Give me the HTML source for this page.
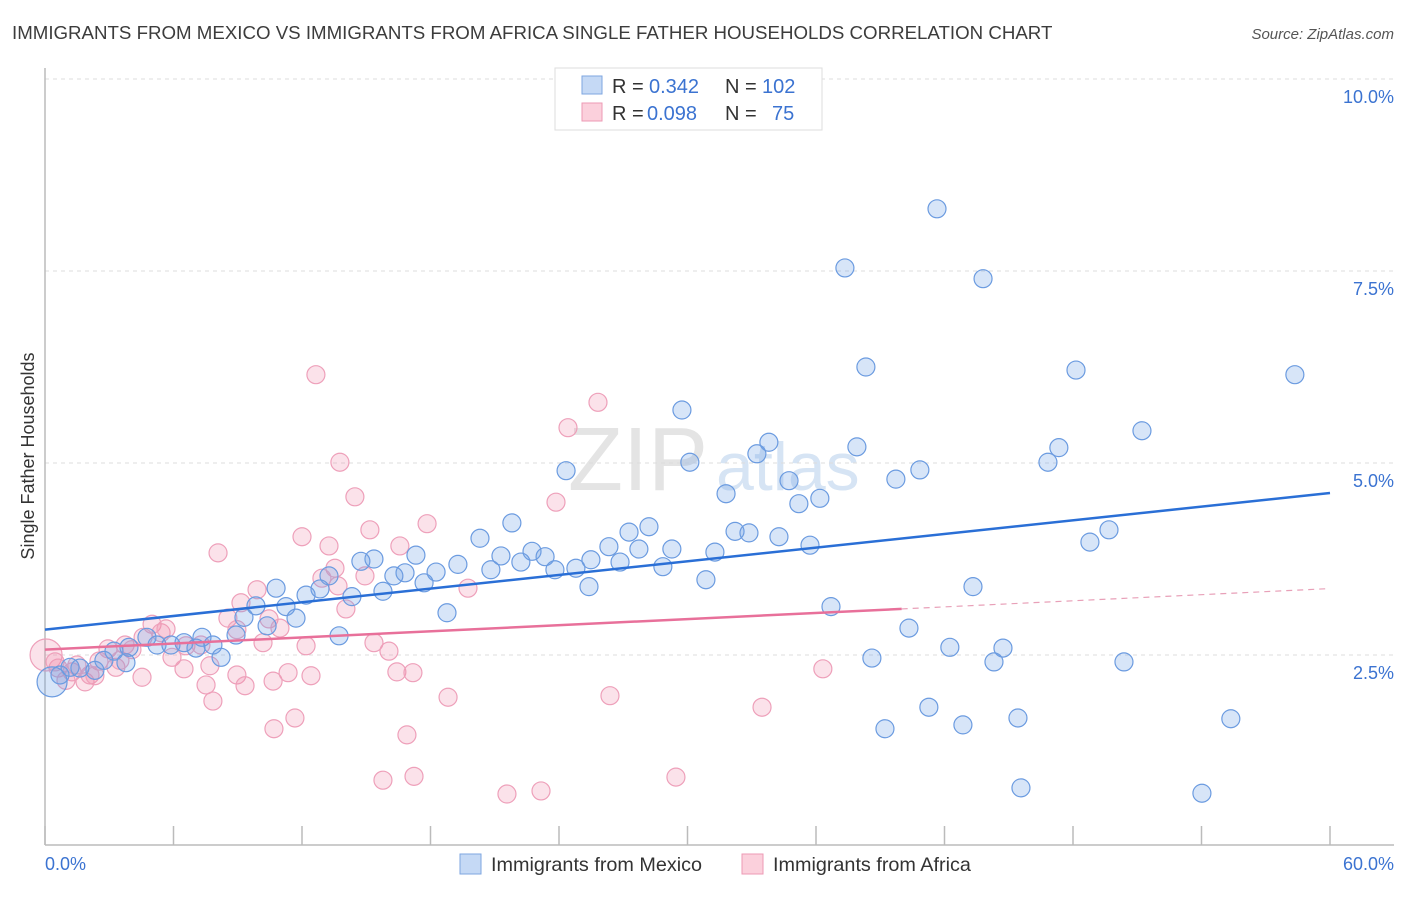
<!DOCTYPE html>
<html><head><meta charset="utf-8"><style>
body{margin:0;background:#fff;font-family:"Liberation Sans",sans-serif}
svg text{font-family:"Liberation Sans",sans-serif}
</style></head><body>
<svg width="1406" height="892" xmlns="http://www.w3.org/2000/svg">
<text x="12" y="39" font-size="18.7" fill="#3c3c3c">IMMIGRANTS FROM MEXICO VS IMMIGRANTS FROM AFRICA SINGLE FATHER HOUSEHOLDS CORRELATION CHART</text>
<text x="1394" y="39" font-size="15" fill="#555" font-style="italic" text-anchor="end">Source: ZipAtlas.com</text>
<text x="708" y="490" font-size="90" fill="#e4e4e4" font-family="Liberation Serif" text-anchor="end">ZIP</text>
<text x="716" y="490" font-size="68" fill="#d6e4f4">atlas</text>
<g id="grid"></g><g id="axes"></g><g id="pts"></g><g id="lines"></g>
<text transform="translate(34,456) rotate(-90)" font-size="18" fill="#333" text-anchor="middle">Single Father Households</text>
<text x="45" y="870" font-size="18" fill="#3b73d1">0.0%</text>
<text x="1394" y="870" font-size="18" fill="#3b73d1" text-anchor="end">60.0%</text>
<g>
<rect x="555" y="68" width="267" height="62" fill="#fff" stroke="#ddd"/>
<rect x="582" y="76" width="20" height="18" fill="#c5d9f5" stroke="#7ea6e0"/>
<rect x="582" y="103" width="20" height="18" fill="#fbd0dc" stroke="#ec9ab4"/>
<text x="612" y="93" font-size="20" fill="#333">R =</text>
<text x="649" y="93" font-size="20" fill="#3b73d1">0.342</text>
<text x="725" y="93" font-size="20" fill="#333">N =</text>
<text x="762" y="93" font-size="20" fill="#3b73d1">102</text>
<text x="612" y="120" font-size="20" fill="#333">R =</text>
<text x="647" y="120" font-size="20" fill="#3b73d1">0.098</text>
<text x="725" y="120" font-size="20" fill="#333">N =</text>
<text x="772" y="120" font-size="20" fill="#3b73d1">75</text>
</g>
<g>
<rect x="460" y="854" width="21" height="20" fill="#c5d9f5" stroke="#7ea6e0"/>
<text x="491" y="871" font-size="19.8" fill="#333">Immigrants from Mexico</text>
<rect x="742" y="854" width="21" height="20" fill="#fbd0dc" stroke="#ec9ab4"/>
<text x="773" y="871" font-size="19.8" fill="#333">Immigrants from Africa</text>
</g>
</svg>
<script>
const yTicks=[2.5,5,7.5,10];
const yTickLabels=["2.5%","5.0%","7.5%","10.0%"];
const xTicks=[0,6,12,18,24,30,36,42,48,54,60];
const mexicoX=[41.65,37.35,43.8,38.33,48.14,58.36,29.74,33.8,33.24,37.91,51.22,47.34,46.83,30.11,24.33,40.85,39.73,34.74,31.8,36.18,35.2,21.8,20.31,27.27,28.2,32.22,32.87,49.68,48.79,34.27,35.72,26.33,29.27,27.73,31.28,22.74,21.29,22.22,23.35,17.32,19.28,15.36,14.75,25.49,26.85,28.85,23.81,24.79,20.82,18.26,16.81,16.29,13.26,30.86,25.4,17.7,15.78,12.84,12.19,14.33,10.79,11.25,9.85,9.29,11.72,18.77,36.7,43.33,10.37,8.92,13.73,7.33,4.76,3.92,5.23,5.88,6.49,7.84,7.05,8.22,3.22,2.75,3.78,40.34,42.25,44.73,44.31,38.61,50.38,41.27,45.43,42.86,39.22,55.37,45.57,54.02,1.63,1.17,2.33,0.7,0.33];
const mexicoY=[8.31,7.54,7.40,6.25,6.21,6.15,5.69,5.27,5.12,5.21,5.42,5.20,5.01,5.01,4.90,4.91,4.79,4.77,4.60,4.54,4.47,4.22,4.02,4.10,4.17,4.11,4.09,4.13,3.97,4.04,3.93,3.91,3.88,3.88,3.84,3.85,3.79,3.71,3.78,3.80,3.68,3.75,3.72,3.74,3.71,3.65,3.61,3.63,3.61,3.58,3.57,3.53,3.53,3.48,3.39,3.44,3.33,3.36,3.28,3.26,3.37,3.13,3.14,2.99,2.98,3.05,3.13,3.39,2.88,2.76,2.75,2.73,2.73,2.60,2.63,2.63,2.66,2.63,2.59,2.47,2.55,2.43,2.40,2.85,2.60,2.59,2.41,2.46,2.41,1.82,1.68,1.59,1.54,1.67,0.77,0.70,2.33,2.34,2.30,2.24,2.15];
const africaX=[12.65,25.82,24.42,13.77,14.47,23.86,17.84,15.17,12.0,13.26,8.08,16.57,13.54,12.93,14.94,13.68,9.9,19.75,14.05,9.15,8.54,5.0,10.46,10.97,8.96,5.42,5.65,4.58,3.74,5.93,6.58,7.28,10.18,12.19,15.36,16.06,2.94,2.52,3.31,6.49,7.7,4.53,8.96,10.65,11.35,12.42,16.43,17.18,36.32,7.52,9.34,18.82,26.38,7.84,11.67,10.69,33.48,16.9,15.78,17.23,21.57,23.16,29.46,0.05,0.61,1.26,1.87,2.1,0.98,0.47,1.49,3.5,4.06,2.33];
const africaY=[6.15,5.79,5.46,5.01,4.56,4.49,4.21,4.13,4.04,3.92,3.83,3.92,3.63,3.50,3.53,3.40,3.35,3.37,3.10,3.18,2.98,2.90,2.97,2.85,2.83,2.79,2.84,2.73,2.63,2.47,2.62,2.63,2.66,2.62,2.66,2.55,2.58,2.42,2.34,2.32,2.36,2.21,2.24,2.16,2.27,2.23,2.28,2.27,2.32,2.11,2.10,1.95,1.97,1.90,1.68,1.54,1.82,1.46,0.87,0.92,0.69,0.73,0.91,2.50,2.33,2.28,2.15,2.24,2.17,2.41,2.37,2.43,2.57,2.23];
const mexicoTrend=[2.83,4.61]; // y at x=0 and x=60
const africaTrend=[2.57,3.10,40]; // y at 0, y at solid end, solid end x
const NS="http://www.w3.org/2000/svg";
const X=v=>45+v/60*1285, Y=v=>847-v*76.8;
function mk(tag,at,parent){const e=document.createElementNS(NS,tag);for(const k in at)e.setAttribute(k,at[k]);document.getElementById(parent).appendChild(e);return e;}
yTicks.forEach((t,i)=>{
 const l=mk('line',{x1:45,x2:1394,y1:Y(t),y2:Y(t),stroke:'#ddd','stroke-dasharray':'4,4'},'grid');
 
 
 const tx=mk('text',{x:1394,y:Y(t)+24,'font-size':18,fill:'#3b73d1','text-anchor':'end'},'grid');
 tx.textContent=yTickLabels[i];
 
 
});
const ax=mk('line',{x1:45,x2:45,y1:68,y2:845,stroke:'#bbb','stroke-width':1.5},'axes');


const bx=mk('line',{x1:45,x2:1394,y1:845,y2:845,stroke:'#bbb','stroke-width':1.5},'axes');


xTicks.forEach(t=>{const l=mk('line',{x1:X(t),x2:X(t),y1:826,y2:845,stroke:'#bbb','stroke-width':1.5},'axes');
 
 });
africaX.forEach((v,i)=>{const r=i===63?16:9;
 const c=mk('circle',{cx:X(v),cy:Y(africaY[i]),r:r,fill:'rgba(240,140,170,0.25)',stroke:'#eea0ba','stroke-width':1.2},'pts');
 
 });
mexicoX.forEach((v,i)=>{const r=i===mexicoX.length-1?15:9;
 const c=mk('circle',{cx:X(v),cy:Y(mexicoY[i]),r:r,fill:'rgba(110,160,230,0.28)',stroke:'#6b9be0','stroke-width':1.2},'pts');
 
 });
const bl=mk('line',{x1:X(0),y1:Y(mexicoTrend[0]),x2:X(60),y2:Y(mexicoTrend[1]),stroke:'#2a6fd6','stroke-width':2.5},'lines');


const slope=(africaTrend[1]-africaTrend[0])/africaTrend[2];
const pl=mk('line',{x1:X(0),y1:Y(africaTrend[0]),x2:X(africaTrend[2]),y2:Y(africaTrend[1]),stroke:'#e8709a','stroke-width':2.5},'lines');


const pd=mk('line',{x1:X(africaTrend[2]),y1:Y(africaTrend[1]),x2:X(60),y2:Y(africaTrend[0]+slope*60),stroke:'#e8a0b8','stroke-width':1.2,'stroke-dasharray':'6,5'},'lines');


</script>
</body></html>
